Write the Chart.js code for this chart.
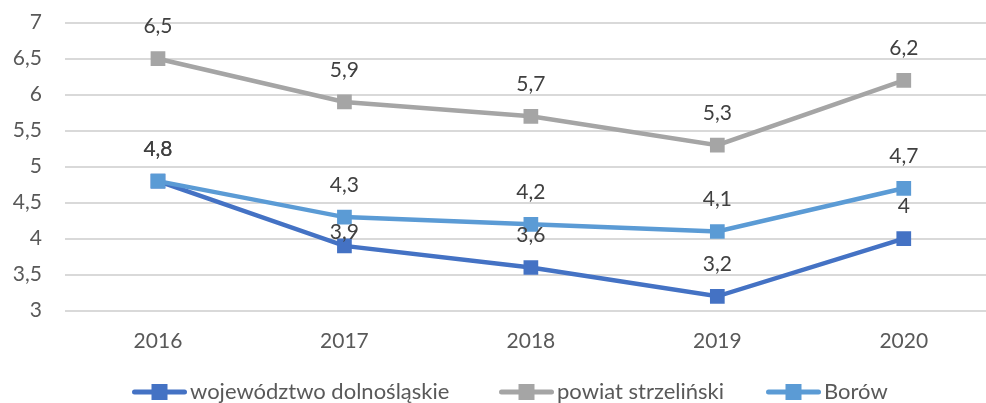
<!DOCTYPE html>
<html>
<head>
<meta charset="utf-8">
<script src="https://cdn.jsdelivr.net/npm/chart.js@4"></script>
<style>
  html, body { margin: 0; padding: 0; background: #fff; overflow: hidden; }
  #wrap { width: 1000px; height: 403px; position: relative; }
</style>
</head>
<body>
<div id="wrap"><canvas id="c"></canvas></div>
<script>
const categories = ['2016', '2017', '2018', '2019', '2020'];
const seriesNames = ['województwo dolnośląskie', 'powiat strzeliński', 'Borów'];
const dolnoslaskie = [4.8, 3.9, 3.6, 3.2, 4.0];
const strzelinski = [6.5, 5.9, 5.7, 5.3, 6.2];
const borow = [4.8, 4.3, 4.2, 4.1, 4.7];
const yTicks = [3, 3.5, 4, 4.5, 5, 5.5, 6, 6.5, 7];

const colors = ['#4472C4', '#A5A5A5', '#5B9BD5'];
const FONT = 'Lato, "Open Sans", sans-serif';
const FS = 21;
const LFS = 22;

function fmt(v) { return String(v).replace('.', ','); }

const labelNudge = { '0-1': 18 };

const dataLabels = {
  id: 'dataLabels',
  afterDatasetsDraw(chart) {
    const ctx = chart.ctx;
    ctx.save();
    ctx.font = FS + 'px ' + FONT;
    ctx.fillStyle = '#404040';
    ctx.textAlign = 'center';
    ctx.textBaseline = 'middle';
    chart.data.datasets.forEach((ds, di) => {
      const meta = chart.getDatasetMeta(di);
      meta.data.forEach((pt, i) => {
        const nudge = labelNudge[di + '-' + i] || 0;
        ctx.fillText(fmt(ds.data[i]), pt.x, pt.y - 32 + nudge);
      });
    });
    ctx.restore();
  }
};

const legendX = [132, 499, 766];
const customLegend = {
  id: 'customLegend',
  afterDraw(chart) {
    const ctx = chart.ctx;
    ctx.save();
    ctx.font = LFS + 'px ' + FONT;
    ctx.textBaseline = 'middle';
    ctx.textAlign = 'left';
    const iconW = 55, textGap = 3;
    const y = 392;
    chart.data.datasets.forEach((ds, i) => {
      const x = legendX[i];
      const col = colors[i];
      ctx.strokeStyle = col; ctx.lineWidth = 5; ctx.lineCap = 'round';
      ctx.beginPath(); ctx.moveTo(x + 2.5, y); ctx.lineTo(x + iconW - 2.5, y); ctx.stroke();
      ctx.fillStyle = col;
      ctx.fillRect(x + iconW / 2 - 8, y - 8, 16, 16);
      ctx.fillStyle = '#595959';
      ctx.fillText(ds.label, x + iconW + textGap, y);
    });
    ctx.restore();
  }
};

const allSeries = [dolnoslaskie, strzelinski, borow];
const orders = [2, 1, 0];

new Chart(document.getElementById('c'), {
  type: 'line',
  data: {
    labels: categories,
    datasets: allSeries.map((d, i) => ({
      label: seriesNames[i],
      data: d,
      borderColor: colors[i],
      backgroundColor: colors[i],
      borderWidth: 4.5,
      pointStyle: 'rect',
      pointRadius: 10.4,
      pointHoverRadius: 10.4,
      pointBackgroundColor: colors[i],
      pointBorderWidth: 0,
      tension: 0,
      order: orders[i],
      fill: false
    }))
  },
  options: {
    responsive: true,
    maintainAspectRatio: false,
    animation: false,
    events: [],
    layout: { autoPadding: false, padding: { left: 0, right: 3, top: 22.7, bottom: 49 } },
    scales: {
      x: {
        offset: true,
        grid: { display: false, drawTicks: false },
        border: { display: false },
        ticks: { color: '#595959', font: { family: FONT, size: FS }, padding: 18, maxRotation: 0 },
        afterFit(scale) { scale.height = 43.3; scale.paddingLeft = 0; scale.paddingRight = 0; scale.paddingTop = 0; scale.paddingBottom = 0; }
      },
      y: {
        min: 3, max: 7,
        afterBuildTicks(scale) { scale.ticks = yTicks.map(v => ({ value: v })); },
        afterFit(scale) { scale.width = 64.75; scale.paddingTop = 0; scale.paddingBottom = 0; },
        grid: { color: '#D9D9D9', lineWidth: 2, drawTicks: false },
        border: { display: false },
        ticks: { color: '#595959', font: { family: FONT, size: FS }, padding: 22.75, callback: v => fmt(v) }
      }
    },
    plugins: {
      legend: { display: false },
      tooltip: { enabled: false }
    }
  },
  plugins: [dataLabels, customLegend]
});
</script>
</body>
</html>
